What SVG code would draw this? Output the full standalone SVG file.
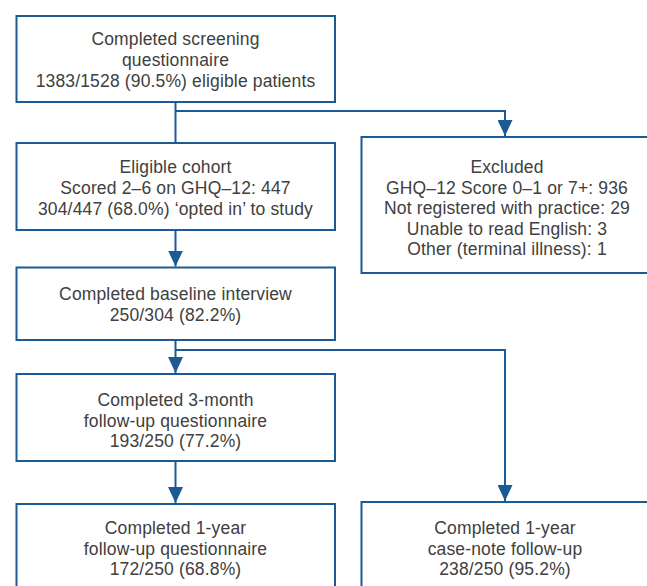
<svg xmlns="http://www.w3.org/2000/svg" width="647" height="586" viewBox="0 0 647 586">
<defs>
<style>
.box{fill:#ffffff;stroke:#1b5a94;stroke-width:2}
.con{fill:none;stroke:#1b5a94;stroke-width:2}
text{font-family:"Liberation Sans",Arial,sans-serif;font-size:17.5px;fill:#404040;text-anchor:middle;letter-spacing:0.15px}
</style>
<marker id="ah" viewBox="0 0 16 15" refX="16" refY="7.5" markerWidth="16" markerHeight="15" markerUnits="userSpaceOnUse" orient="auto">
<path d="M0,0 L16,7.5 L0,15 z" fill="#1b5a94"/>
</marker>
</defs>
<rect width="647" height="586" fill="#ffffff"/>
<g id="connectors">
<path class="con" d="M175.5,102 V143"/>
<path class="con" d="M175.5,111 H505 V136" marker-end="url(#ah)"/>
<path class="con" d="M175.5,230 V266.5" marker-end="url(#ah)"/>
<path class="con" d="M175.5,340 V373" marker-end="url(#ah)"/>
<path class="con" d="M175.5,350 H505 V501" marker-end="url(#ah)"/>
<path class="con" d="M175.5,461 V503" marker-end="url(#ah)"/>
</g>
<g id="screening">
<rect class="box" x="16.5" y="16" width="318.5" height="86"/>
<text x="175.5" y="44.5">Completed screening</text>
<text x="175.5" y="65.7">questionnaire</text>
<text x="175.5" y="86.9">1383/1528 (90.5%) eligible patients</text>
</g>
<g id="eligible">
<rect class="box" x="16.5" y="143" width="318.5" height="87"/>
<text x="175.5" y="173.3">Eligible cohort</text>
<text x="175.5" y="194">Scored 2–6 on GHQ–12: 447</text>
<text x="175.5" y="215">304/447 (68.0%) ‘opted in’ to study</text>
</g>
<g id="excluded">
<rect class="box" x="361.5" y="137" width="300" height="136"/>
<text x="507" y="173.3">Excluded</text>
<text x="507" y="193.6">GHQ–12 Score 0–1 or 7+: 936</text>
<text x="507" y="214">Not registered with practice: 29</text>
<text x="507" y="234.5">Unable to read English: 3</text>
<text x="507" y="255">Other (terminal illness): 1</text>
</g>
<g id="baseline">
<rect class="box" x="16.5" y="267.5" width="318.5" height="72.5"/>
<text x="175.5" y="300">Completed baseline interview</text>
<text x="175.5" y="320.7">250/304 (82.2%)</text>
</g>
<g id="threemonth">
<rect class="box" x="16.5" y="374" width="318.5" height="87"/>
<text x="175.5" y="406">Completed 3-month</text>
<text x="175.5" y="426.7">follow-up questionnaire</text>
<text x="175.5" y="447.3">193/250 (77.2%)</text>
</g>
<g id="oneyear">
<rect class="box" x="16.5" y="504" width="318.5" height="100"/>
<text x="175.5" y="534">Completed 1-year</text>
<text x="175.5" y="554.7">follow-up questionnaire</text>
<text x="175.5" y="575">172/250 (68.8%)</text>
</g>
<g id="casenote">
<rect class="box" x="361.5" y="502" width="300" height="100"/>
<text x="505" y="534">Completed 1-year</text>
<text x="505" y="554.7">case-note follow-up</text>
<text x="505" y="575">238/250 (95.2%)</text>
</g>
</svg>
